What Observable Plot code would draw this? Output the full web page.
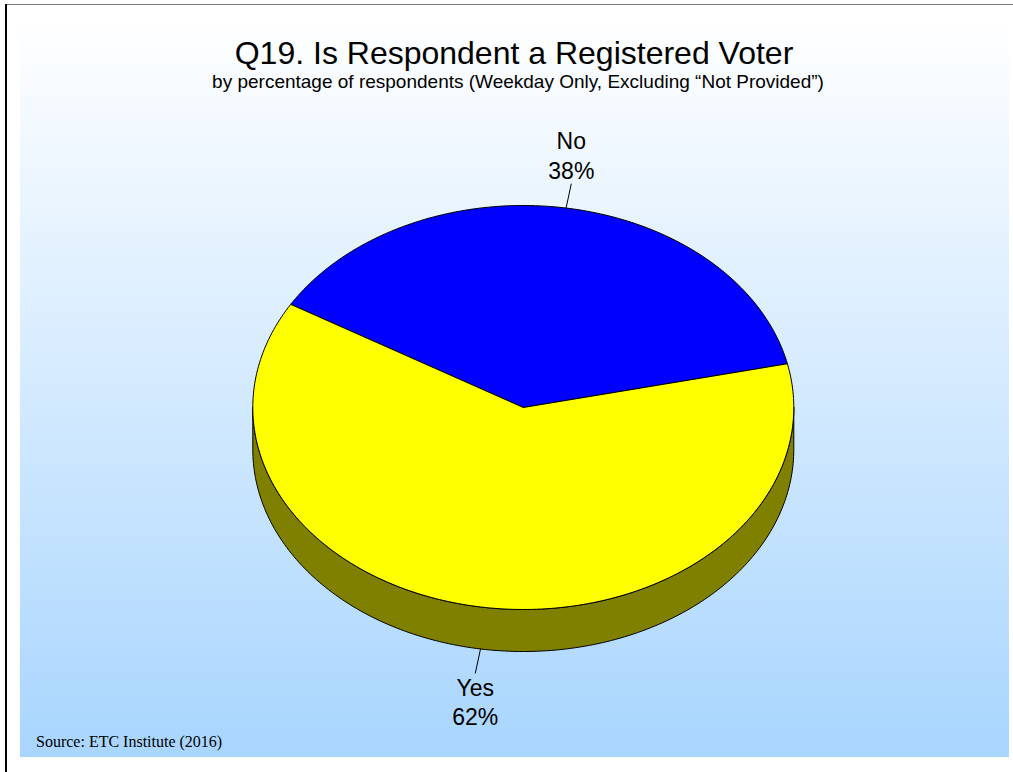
<!DOCTYPE html>
<html>
<head>
<meta charset="utf-8">
<script src="https://cdn.jsdelivr.net/npm/d3@7"></script>
<script src="https://cdn.jsdelivr.net/npm/@observablehq/plot@0.6"></script>
<style>
  html, body { margin: 0; padding: 0; background: #ffffff; }
  #frame { position: relative; width: 1013px; height: 772px; overflow: hidden; font-family: Arial, "Liberation Sans", sans-serif; }
  #topline { position: absolute; left: 5px; top: 4px; width: 1008px; height: 1px; background: #777777; }
  #leftline { position: absolute; left: 5px; top: 4px; width: 2px; height: 768px; background: #000000; }
  #bg { position: absolute; left: 20px; top: 20px; width: 989px; height: 737px; background: linear-gradient(to bottom, #ffffff 0%, #a8d5fe 100%); }
  .txt { position: absolute; white-space: nowrap; line-height: 1; color: #000; }
  #title { left: 514px; top: 37px; transform: translateX(-50%); font-size: 32px; }
  #subtitle { left: 518px; top: 72px; transform: translateX(-50%); font-size: 19px; }
  #source { left: 36px; top: 734px; font-family: "Times New Roman", "Liberation Serif", serif; font-size: 16px; }
  #chart { position: absolute; left: 0; top: 0; }
  #chart svg { background: transparent !important; }
</style>
</head>
<body>
<div id="frame">
  <div id="topline"></div>
  <div id="leftline"></div>
  <div id="bg"></div>
  <div id="chart"></div>
  <div class="txt" id="title">Q19. Is Respondent a Registered Voter</div>
  <div class="txt" id="subtitle">by percentage of respondents (Weekday Only, Excluding “Not Provided”)</div>
  <div class="txt" id="source">Source: ETC Institute (2016)</div>
</div>
<script>
// ---- data ----
const categories = ["No", "Yes"];
const percents = [38, 62];
const labels = ["No\n38%", "Yes\n62%"];
const topColors = ["#0000ff", "#ffff00"];
const sideColors = ["#00007f", "#808000"];

// ---- layout (pixel geometry of the tilted pie) ----
const W = 1013, H = 772;
const cx = 522.8, cy = 407, rx = 270.5, ry = 202, depth = 42;
const startAngle = -59.3; // degrees clockwise from 12 o'clock
const leaderLen = 25;

const rad = d => d * Math.PI / 180;
const ex = a => cx + rx * Math.sin(rad(a));
const ey = a => cy - ry * Math.cos(rad(a));

const total = d3.sum(percents);
let acc = startAngle;
const slices = categories.map((c, i) => {
  const span = percents[i] / total * 360;
  const s = { name: c, a0: acc, a1: acc + span, i };
  acc += span;
  return s;
});

function arcPts(a0, a1, dy = 0) {
  const pts = [];
  const n = Math.max(2, Math.ceil(Math.abs(a1 - a0)));
  for (let k = 0; k <= n; k++) {
    const a = a0 + (a1 - a0) * k / n;
    pts.push({ x: ex(a), y: ey(a) + dy });
  }
  return pts;
}

// side walls (front half: 90..270 degrees)
const walls = [];
slices.forEach(s => {
  let a0 = ((s.a0 % 360) + 360) % 360;
  let a1 = a0 + (s.a1 - s.a0);
  for (const [f0, f1] of [[90, 270], [450, 630]]) {
    const lo = Math.max(a0, f0), hi = Math.min(a1, f1);
    if (hi > lo) {
      const topArc = arcPts(lo, hi, 0);
      const botArc = arcPts(hi, lo, depth);
      const pts = topArc.concat(botArc);
      pts.push(pts[0]);
      walls.push({ color: sideColors[s.i], pts });
    }
  }
});

// top faces
const faces = slices.map(s => {
  const pts = [{ x: cx, y: cy }].concat(arcPts(s.a0, s.a1, 0));
  pts.push({ x: cx, y: cy });
  return { color: topColors[s.i], pts };
});

// leaders & labels
const leaders = slices.map(s => {
  const mid = (s.a0 + s.a1) / 2;
  const tx = ex(mid), ty = ey(mid);
  const front = Math.cos(rad(mid)) < 0;
  const vx = tx - cx, vy = ty - cy;
  const L = Math.hypot(vx, vy);
  const x1 = tx, y1 = ty + (front ? depth : 0);
  const x2 = x1 + leaderLen * vx / L, y2 = y1 + leaderLen * vy / L;
  return { x1, y1, x2, y2, up: vy < 0, label: labels[s.i] };
});

const marks = [];
walls.forEach(w => marks.push(Plot.line(w.pts, { x: "x", y: "y", fill: w.color, stroke: "#000000", strokeWidth: 1, curve: "linear" })));
faces.forEach(f => marks.push(Plot.line(f.pts, { x: "x", y: "y", fill: f.color, stroke: "#000000", strokeWidth: 1, curve: "linear" })));
marks.push(Plot.link(leaders, { x1: "x1", y1: "y1", x2: "x2", y2: "y2", stroke: "#000000", strokeWidth: 1 }));
leaders.forEach(l => marks.push(Plot.text([l], {
  x: "x2", y: "y2", text: "label",
  lineAnchor: l.up ? "bottom" : "top",
  dy: l.up ? -5 : 2,
  lineHeight: 1.27,
  fontSize: 23, fontFamily: "Arial, 'Liberation Sans', sans-serif",
  fill: "#000000"
})));

const chart = Plot.plot({
  width: W, height: H,
  margin: 0,
  x: { type: "linear", domain: [0, W], range: [0, W], axis: null },
  y: { type: "linear", domain: [0, H], range: [0, H], axis: null },
  style: { background: "transparent", overflow: "visible" },
  marks
});
document.getElementById("chart").appendChild(chart);
</script>
</body>
</html>
